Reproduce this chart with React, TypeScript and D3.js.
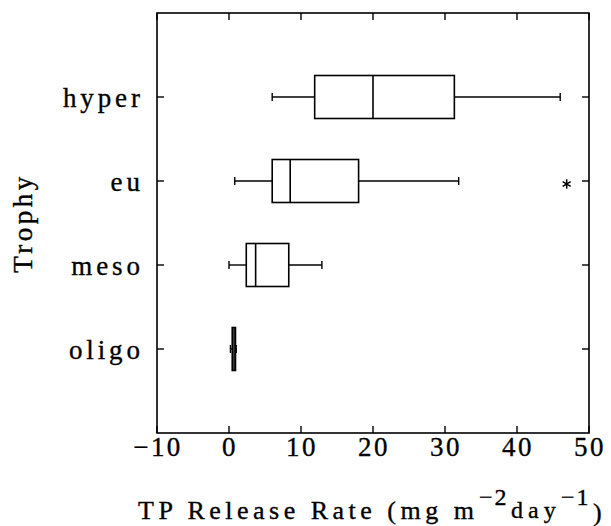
import React from "react";
import * as d3 from "d3";

const categories = ["hyper", "eu", "meso", "oligo"];
const whiskerLow = [6.0, 0.8, 0.0, 0.2];
const q1 = [11.9, 6.0, 2.4, 0.45];
const median = [20.0, 8.5, 3.7, 0.7];
const q3 = [31.3, 18.0, 8.3, 0.9];
const whiskerHigh = [46.0, 31.9, 12.9, 1.0];
const outliers: { cat: string; value: number }[] = [{ cat: "eu", value: 46.9 }];
const xTicks = [-10, 0, 10, 20, 30, 40, 50];

const W = 611;
const H = 526;
const left = 157;
const right = 589;
const top = 13;
const bottom = 433;

export default function App() {
  const x = d3.scaleLinear().domain([-10, 50]).range([left, right]);
  const y = d3
    .scalePoint<string>()
    .domain(categories)
    .range([top, bottom])
    .padding(1);
  const boxH = 43;
  const capH = 8;
  const font = "'Liberation Serif', 'Times New Roman', serif";
  const star = d3.symbol().type(d3.symbolAsterisk).size(60)();
  const fs = 27;

  return (
    <svg
      width={W}
      height={H}
      style={{ position: "absolute", left: 0, top: 0, background: "#fff" }}
      fontFamily={font}
    >
      <g stroke="#000" strokeWidth={0.35} fill="#000">
        {xTicks.map((t) => (
          <text key={t} x={x(t) + 1} y={456} fontSize={fs} textAnchor="middle" letterSpacing={2.4}>
            {t < 0 ? "\u2212" + Math.abs(t) : String(t)}
          </text>
        ))}
        {categories.map((c) => (
          <text key={c} x={140 + 3.9} y={y(c)! + 9.5} fontSize={fs} textAnchor="end" letterSpacing={3.9}>
            {c}
          </text>
        ))}
        <text
          transform={`translate(32,223) rotate(-90)`}
          fontSize={fs}
          textAnchor="middle"
          letterSpacing={3.5}
        >
          Trophy
        </text>
        <text x={138} y={519} fontSize={26} letterSpacing={4.5}>
          <tspan>TP Release Rate (mg m</tspan>
          <tspan x={479} dy={-14} fontSize={24} letterSpacing={2}>{"\u2212"}2</tspan>
          <tspan x={511} dy={13} fontSize={24} letterSpacing={5}>day</tspan>
          <tspan x={561} dy={-13} fontSize={24} letterSpacing={2}>{"\u2212"}1</tspan>
          <tspan x={593} dy={16}>)</tspan>
        </text>
      </g>
      <rect x={left} y={top} width={right - left} height={bottom - top} fill="none" stroke="#000" strokeWidth={1.6} />
      {xTicks.map((t) => (
        <g key={t}>
          <line x1={x(t)} x2={x(t)} y1={top} y2={top + 7} stroke="#000" strokeWidth={1.4} />
          <line x1={x(t)} x2={x(t)} y1={bottom} y2={bottom - 7} stroke="#000" strokeWidth={1.4} />
        </g>
      ))}
      {categories.map((c, i) => {
        const cy = y(c)!;
        return (
          <g key={c}>
            <line x1={left} x2={left + 7} y1={cy} y2={cy} stroke="#000" strokeWidth={1.4} />
            <line x1={right} x2={right - 7} y1={cy} y2={cy} stroke="#000" strokeWidth={1.4} />
            <line x1={x(whiskerLow[i])} x2={x(q1[i])} y1={cy} y2={cy} stroke="#000" strokeWidth={1.4} />
            <line x1={x(q3[i])} x2={x(whiskerHigh[i])} y1={cy} y2={cy} stroke="#000" strokeWidth={1.4} />
            <line x1={x(whiskerLow[i])} x2={x(whiskerLow[i])} y1={cy - capH / 2} y2={cy + capH / 2} stroke="#000" strokeWidth={1.4} />
            <line x1={x(whiskerHigh[i])} x2={x(whiskerHigh[i])} y1={cy - capH / 2} y2={cy + capH / 2} stroke="#000" strokeWidth={1.4} />
            <rect
              x={x(q1[i])}
              y={cy - boxH / 2}
              width={x(q3[i]) - x(q1[i])}
              height={boxH}
              fill="#fff"
              stroke="#000"
              strokeWidth={1.6}
            />
            <line x1={x(median[i])} x2={x(median[i])} y1={cy - boxH / 2} y2={cy + boxH / 2} stroke="#000" strokeWidth={1.6} />
          </g>
        );
      })}
      {outliers.map((o, i) => (
        <path
          key={i}
          d={star!}
          transform={`translate(${x(o.value)},${y(o.cat)! + 3})`}
          stroke="#000"
          strokeWidth={1.5}
          fill="none"
        />
      ))}
    </svg>
  );
}
